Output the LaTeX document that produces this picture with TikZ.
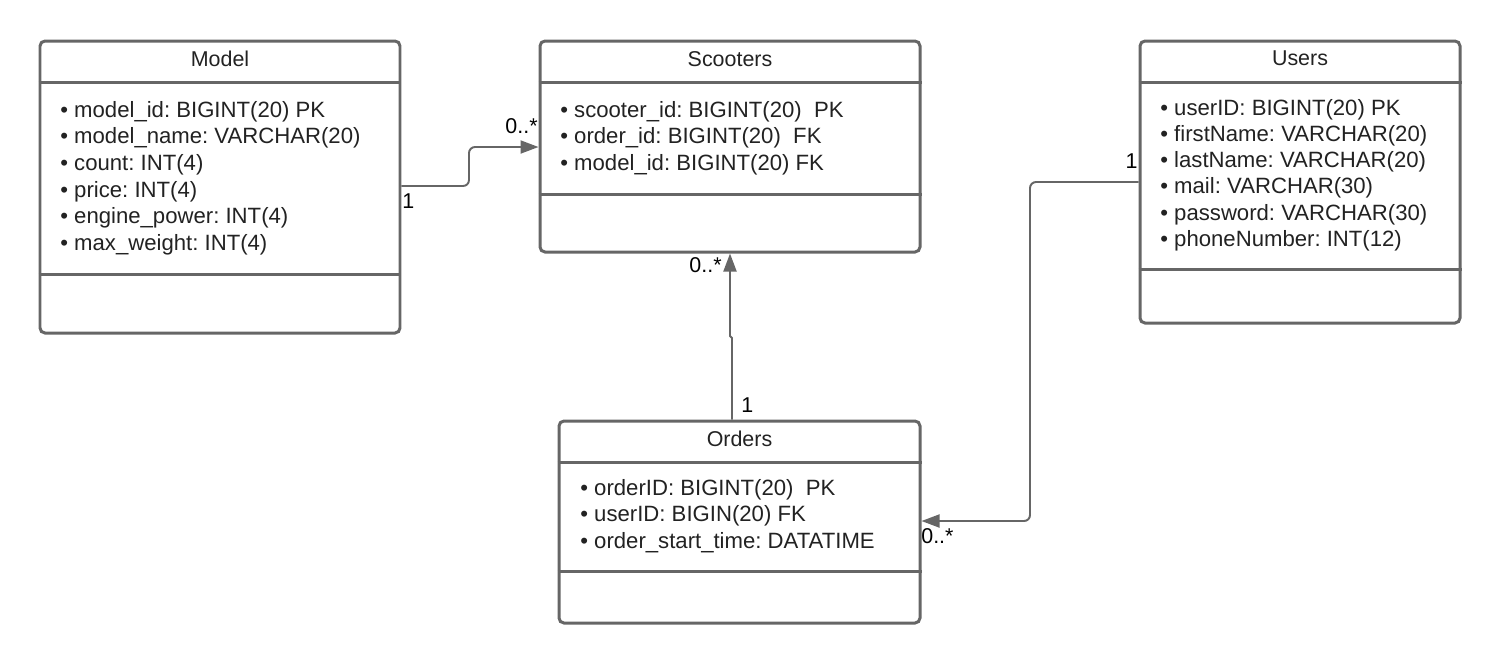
\documentclass[tikz,border=0pt]{standalone}
\usepackage{fontspec}
\setmainfont{Liberation Sans}
\usetikzlibrary{fit,arrows.meta}
\definecolor{edge}{HTML}{666666}
\definecolor{txt}{HTML}{222222}
\frenchspacing
\begin{document}
\begin{tikzpicture}[x=0.02cm,y=-0.02cm,
  tbl/.style={draw=edge,line width=1.7pt,rounded corners=0.1cm,inner sep=0pt,fill=white},
  sep/.style={draw=edge,line width=1.7pt},
  ttl/.style={anchor=base,inner sep=0pt,font=\fontsize{12.2}{14}\selectfont,text=txt},
  attr/.style={anchor=base west,inner sep=0pt,font=\fontsize{12.6}{14}\selectfont,text=txt},
  mult/.style={inner sep=0pt,font=\fontsize{12.2}{14}\selectfont,text=black},
  conn/.style={draw=edge,line width=1.1pt,rounded corners=0.12cm,-{Triangle[length=0.36cm,width=0.26cm]}}]
\useasboundingbox (0,0) rectangle (1500,664);

% tables
\node[tbl,fit={(40,41) (400,333)}] (model) {};
\node[tbl,fit={(540,41) (920,252)}] (scooters) {};
\node[tbl,fit={(1140,41) (1460,323)}] (users) {};
\node[tbl,fit={(559,421) (920,623)}] (orders) {};

\draw[sep] (model.west |- 0,82) -- (model.east |- 0,82);
\draw[sep] (model.west |- 0,274) -- (model.east |- 0,274);
\draw[sep] (scooters.west |- 0,82) -- (scooters.east |- 0,82);
\draw[sep] (scooters.west |- 0,194) -- (scooters.east |- 0,194);
\draw[sep] (users.west |- 0,82) -- (users.east |- 0,82);
\draw[sep] (users.west |- 0,269) -- (users.east |- 0,269);
\draw[sep] (orders.west |- 0,462) -- (orders.east |- 0,462);
\draw[sep] (orders.west |- 0,571) -- (orders.east |- 0,571);

% titles
\node[ttl] (modelT) at (220,66) {Model};
\node[ttl] (scootersT) at (730,66) {Scooters};
\node[ttl] (usersT) at (1300,65) {Users};
\node[ttl] (ordersT) at (739.5,446) {Orders};

% Model attributes
\node[attr] (m1) at (60,117) {• model\_id: BIGINT(20) PK};
\node[attr] (m2) at (60,143.7) {• model\_name: VARCHAR(20)};
\node[attr] (m3) at (60,170.4) {• count: INT(4)};
\node[attr] (m4) at (60,197.1) {• price: INT(4)};
\node[attr] (m5) at (60,223.8) {• engine\_power: INT(4)};
\node[attr] (m6) at (60,250.5) {• max\_weight: INT(4)};

% Scooters attributes
\node[attr] (s1) at (560,117) {• scooter\_id: BIGINT(20)\ \ PK};
\node[attr] (s2) at (560,143.7) {• order\_id: BIGINT(20)\ \ FK};
\node[attr] (s3) at (560,170.4) {• model\_id: BIGINT(20) FK};

% Users attributes
\node[attr] (u1) at (1160,115) {• userID: BIGINT(20) PK};
\node[attr] (u2) at (1160,141.3) {• firstName: VARCHAR(20)};
\node[attr] (u3) at (1160,167.6) {• lastName: VARCHAR(20)};
\node[attr] (u4) at (1160,193.9) {• mail: VARCHAR(30)};
\node[attr] (u5) at (1160,220.2) {• password: VARCHAR(30)};
\node[attr] (u6) at (1160,246.5) {• phoneNumber: INT(12)};

% Orders attributes
\node[attr] (o1) at (580,495) {• orderID: BIGINT(20)\ \ PK};
\node[attr] (o2) at (580,521.5) {• userID: BIGIN(20) FK};
\node[attr] (o3) at (580,548) {• order\_start\_time: DATATIME};

% connectors
\coordinate (c1) at (469,186);
\coordinate (c2) at (469,147);
\draw[conn] (model.east |- c1) -- (c1) -- (c2) -- (scooters.west |- c2);

\coordinate (c3) at (732,338);
\coordinate (c4) at (730,336);
\draw[conn,rounded corners=0pt] (orders.north -| c3) -- (c3) -- (c4) -- (scooters.south -| c4);

\coordinate (c5) at (1030,182);
\coordinate (c6) at (1030,521);
\draw[conn] (users.west |- c5) -- (c5) -- (c6) -- (orders.east |- c6);

% multiplicities
\node[mult,anchor=base west] (l1) at (402,208) {1};
\node[mult,anchor=base east] (l2) at (538,133) {0..*};
\node[mult,anchor=base east] (l3) at (722,272) {0..*};
\node[mult,anchor=base west] (l4) at (741,412) {1};
\node[mult,anchor=base east] (l5) at (1138,168) {1};
\node[mult,anchor=base west] (l6) at (921,543) {0..*};
\end{tikzpicture}
\end{document}
